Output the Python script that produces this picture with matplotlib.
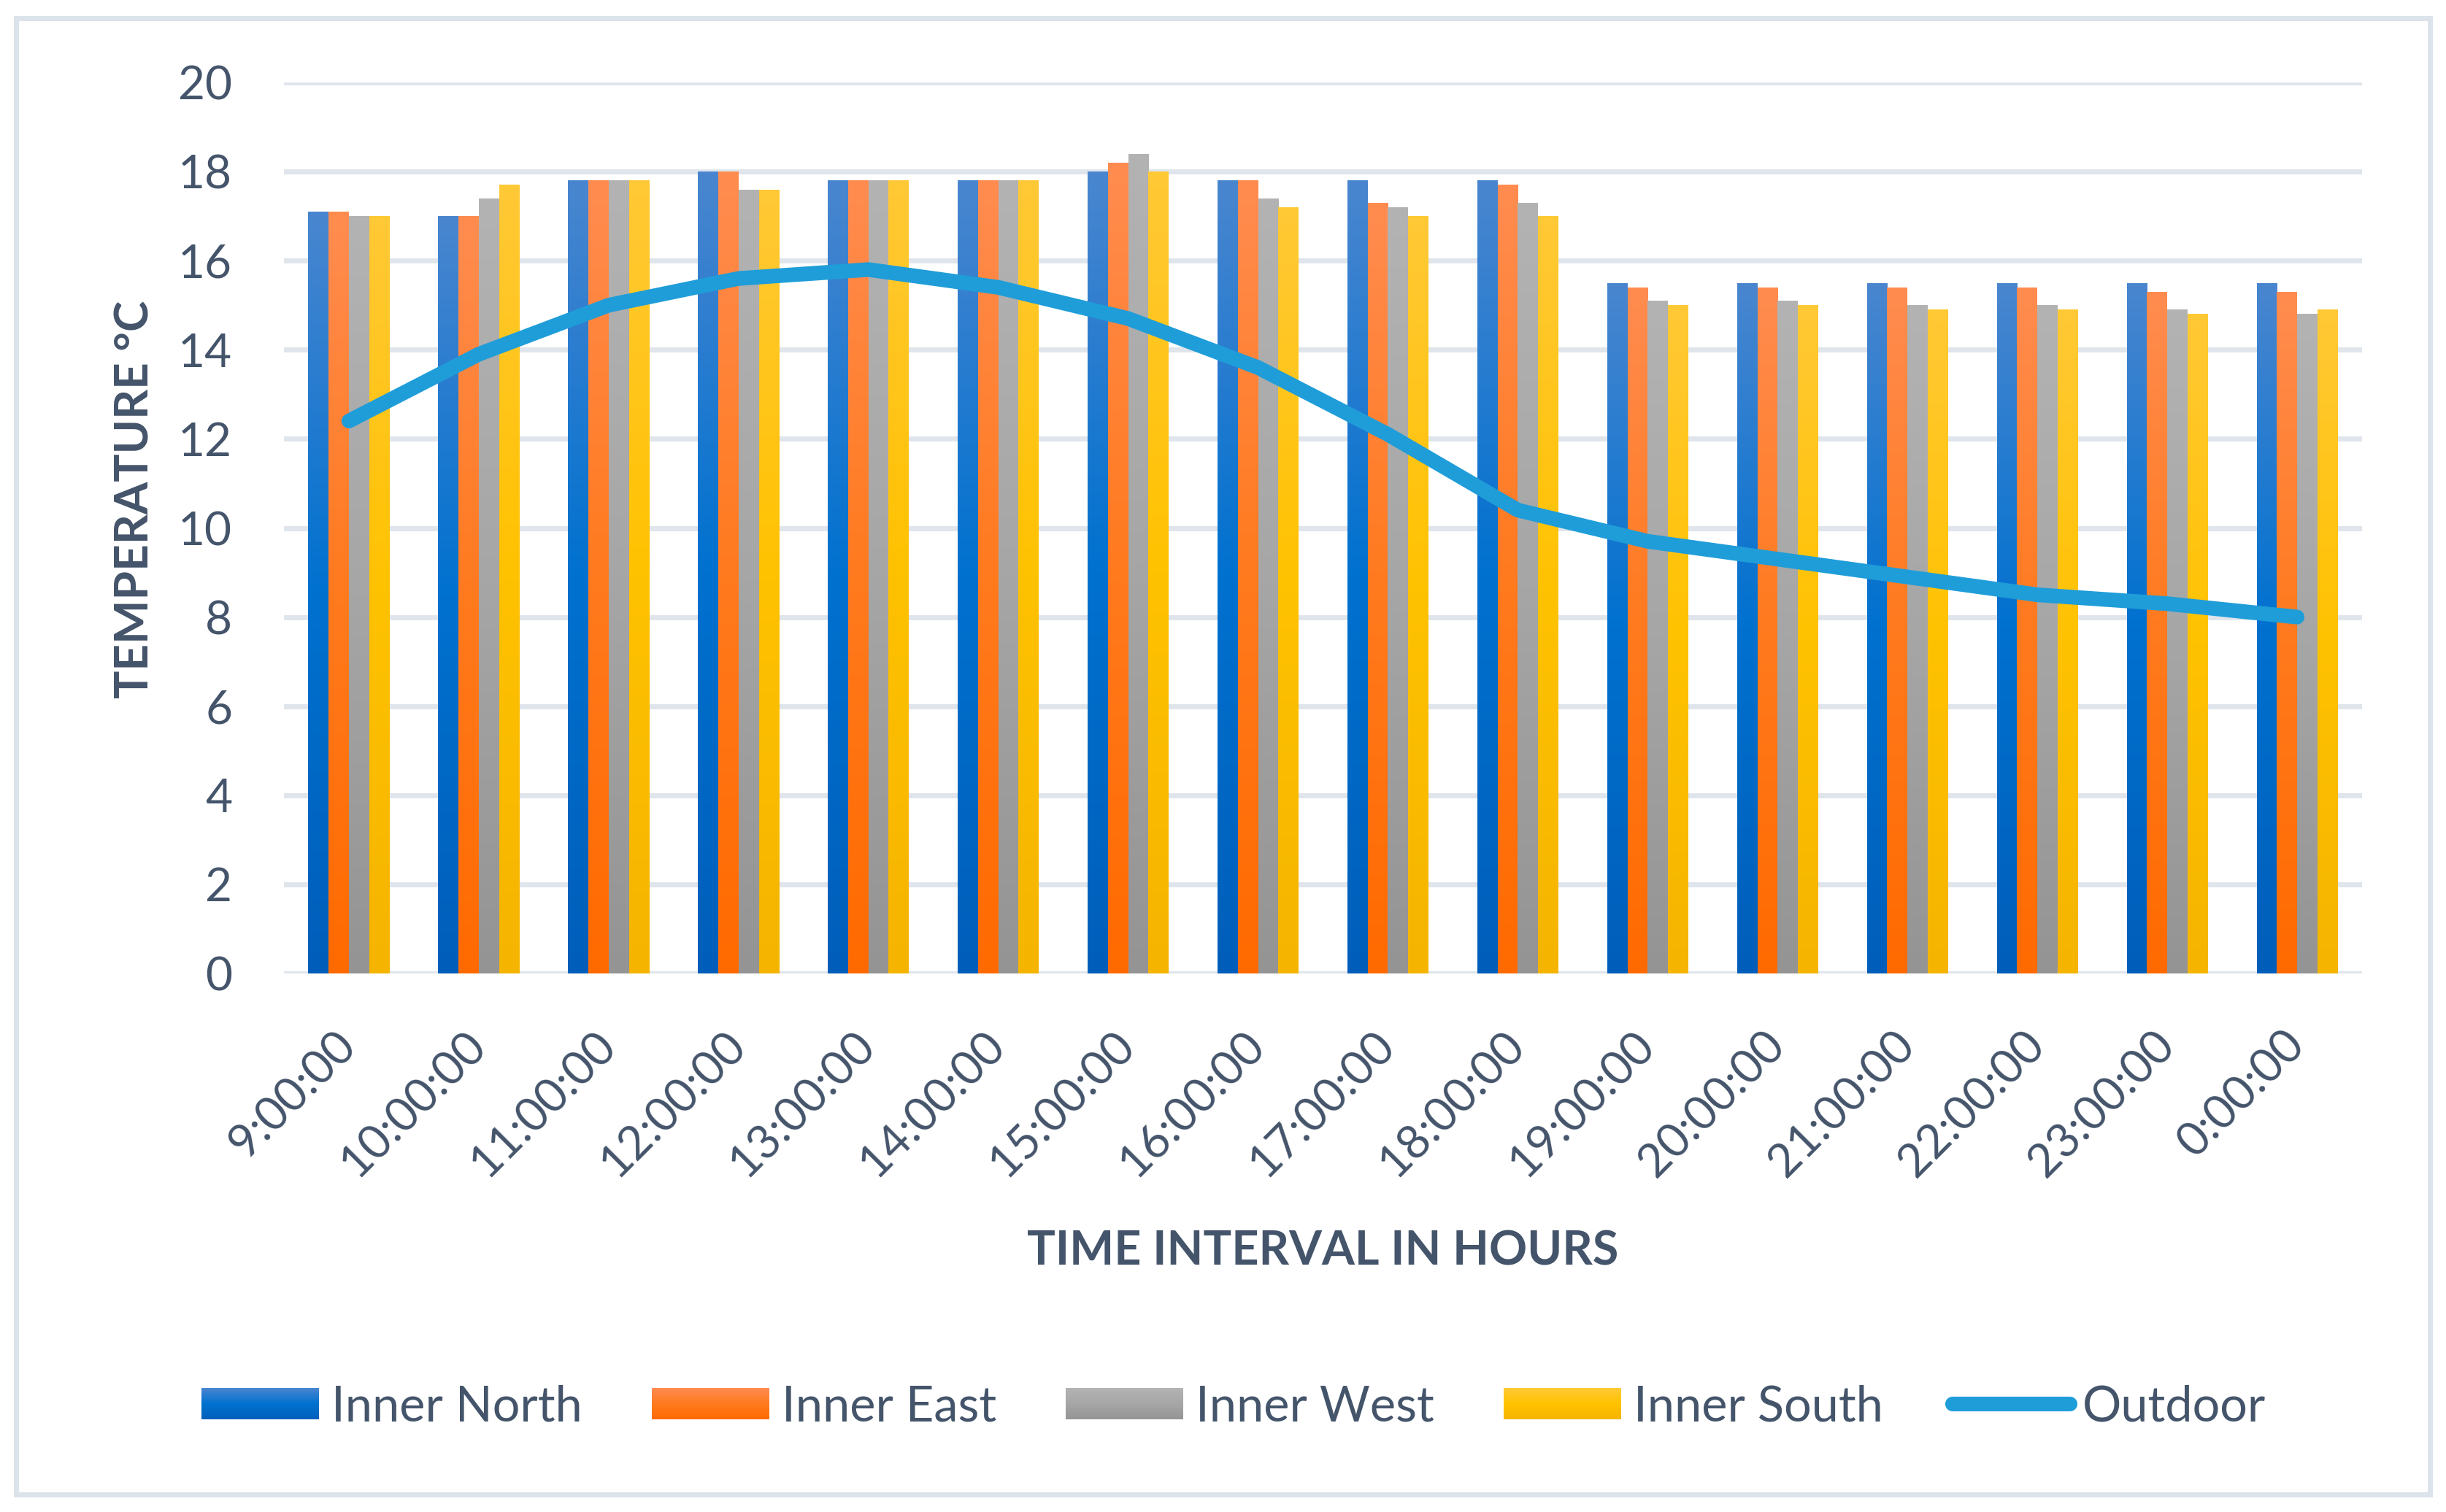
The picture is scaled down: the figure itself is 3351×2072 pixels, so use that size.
import numpy as np
import matplotlib
matplotlib.use("Agg")
import matplotlib.pyplot as plt
from matplotlib.patches import Rectangle, Patch
from matplotlib.lines import Line2D
from matplotlib.legend_handler import HandlerBase
from matplotlib.colors import to_rgb

plt.rcParams['font.family'] = ['Lato', 'DejaVu Sans']

# ---------------- data ----------------
times = ['9:00:00', '10:00:00', '11:00:00', '12:00:00', '13:00:00', '14:00:00',
         '15:00:00', '16:00:00', '17:00:00', '18:00:00', '19:00:00', '20:00:00',
         '21:00:00', '22:00:00', '23:00:00', '0:00:00']
inner_north = [17.1, 17.0, 17.8, 18.0, 17.8, 17.8, 18.0, 17.8, 17.8, 17.8,
               15.5, 15.5, 15.5, 15.5, 15.5, 15.5]
inner_east = [17.1, 17.0, 17.8, 18.0, 17.8, 17.8, 18.2, 17.8, 17.3, 17.7,
              15.4, 15.4, 15.4, 15.4, 15.3, 15.3]
inner_west = [17.0, 17.4, 17.8, 17.6, 17.8, 17.8, 18.4, 17.4, 17.2, 17.3,
              15.1, 15.1, 15.0, 15.0, 14.9, 14.8]
inner_south = [17.0, 17.7, 17.8, 17.6, 17.8, 17.8, 18.0, 17.2, 17.0, 17.0,
               15.0, 15.0, 14.9, 14.9, 14.8, 14.9]
outdoor = [12.4, 13.9, 15.0, 15.6, 15.8, 15.4, 14.7, 13.6, 12.1, 10.4,
           9.7, 9.3, 8.9, 8.5, 8.3, 8.0]
series_names = ['Inner North', 'Inner East', 'Inner West', 'Inner South']
line_name = 'Outdoor'
yticks = [0, 2, 4, 6, 8, 10, 12, 14, 16, 18, 20]

# gradient stops (top, middle, bottom)
grad_stops = [
    ['#4A86D0', '#0071CF', '#005EBA'],
    ['#FF8C50', '#FF7A1E', '#FF6A00'],
    ['#B3B3B3', '#A6A6A6', '#949494'],
    ['#FFC936', '#FFC200', '#F5B400'],
]
line_color = '#1F9DD9'
text_color = '#44546A'
grid_color = '#DFE5EB'
border_color = '#DCE3EA'


def gradient_colors(stops, n=256):
    c = np.array([to_rgb(s) for s in stops])
    t = np.linspace(0, 1, n)
    pos = np.array([0.0, 0.5, 1.0])
    out = np.stack([np.interp(t, pos, c[:, k]) for k in range(3)], axis=1)
    return out  # top -> bottom


class GradHandler(HandlerBase):
    def __init__(self, stops):
        super().__init__()
        self.stops = stops

    def create_artists(self, legend, orig_handle, xdescent, ydescent,
                       width, height, fontsize, trans):
        n = 40
        cols = gradient_colors(self.stops, n)
        arts = []
        for i in range(n):
            y = -ydescent + height * (1 - (i + 1) / n)
            r = Rectangle((-xdescent, y), width, height / n * 1.05,
                          facecolor=cols[i], edgecolor='none', lw=0,
                          transform=trans)
            arts.append(r)
        return arts


W, H = 3351, 2072
fig = plt.figure(figsize=(W / 100, H / 100), dpi=100)
ax = fig.add_axes([389 / W, 1 - 1334 / H, (3236 - 389) / W, (1334 - 113) / H])

x = np.arange(len(times))
bw = 0.156
all_series = [inner_north, inner_east, inner_west, inner_south]
for k, vals in enumerate(all_series):
    offs = (k - 1.5) * bw
    bars = ax.bar(x + offs, vals, width=bw, facecolor='none', edgecolor='none',
                  zorder=2)
    img = gradient_colors(grad_stops[k])[:, None, :]
    for rect in bars:
        x0 = rect.get_x()
        h = rect.get_height()
        im = ax.imshow(img, extent=(x0, x0 + bw, 0, h), aspect='auto',
                       origin='upper', zorder=2, interpolation='bilinear')
        im.set_clip_path(rect)

ax.plot(x, outdoor, color=line_color, lw=14.5, solid_capstyle='round',
        solid_joinstyle='round', zorder=4)

ax.set_xlim(-0.5, len(times) - 0.5)
ax.set_ylim(0, 20)
ax.set_yticks(yticks)
ax.set_yticklabels([str(v) for v in yticks])
ax.yaxis.grid(True, color=grid_color, lw=5, zorder=0)
ax.set_axisbelow(True)
for s in ax.spines.values():
    s.set_visible(False)
ax.tick_params(axis='y', length=0, pad=51, labelsize=46, labelcolor=text_color)
ax.tick_params(axis='x', length=0, pad=64, labelsize=46, labelcolor=text_color)
ax.set_xticks(x)
ax.set_xticklabels(times, rotation=45, ha='right', va='center',
                   rotation_mode='anchor')

# axis titles
fig.text(203 / W, 1 - 684 / H, 'TEMPERATURE °C', rotation=90,
         rotation_mode='anchor', ha='center', va='baseline', fontsize=46,
         fontweight='bold', color=text_color)
fig.text(1812 / W, 1 - 1733 / H, 'TIME INTERVAL IN HOURS', ha='center',
         va='baseline', fontsize=46.5, fontweight='bold', color=text_color)

# legend
handles = [Patch(label=n) for n in series_names]
hmap = {h: GradHandler(grad_stops[i]) for i, h in enumerate(handles)}
lh = Line2D([0], [0], color=line_color, lw=14.5, solid_capstyle='round')
handles.append(lh)
labels = series_names + [line_name]
fs = 48
fpx = fs * 100 / 72
leg = fig.legend(handles, labels, handler_map=hmap, loc='center',
                 bbox_to_anchor=(1690 / W, 1 - 1928 / H), ncol=5,
                 frameon=False, fontsize=fs, handlelength=161 / fpx,
                 handleheight=42 / fpx, handletextpad=17 / fpx,
                 columnspacing=95 / fpx, borderpad=0, borderaxespad=0)
for t in leg.get_texts():
    t.set_color(text_color)

# outer border
fig.patches.append(Rectangle((22 / W, 1 - 2048 / H), (3329 - 22) / W,
                             (2048 - 25) / H, transform=fig.transFigure,
                             facecolor='none', edgecolor=border_color, lw=5))

fig.savefig('out.png', dpi=100, facecolor='white')
